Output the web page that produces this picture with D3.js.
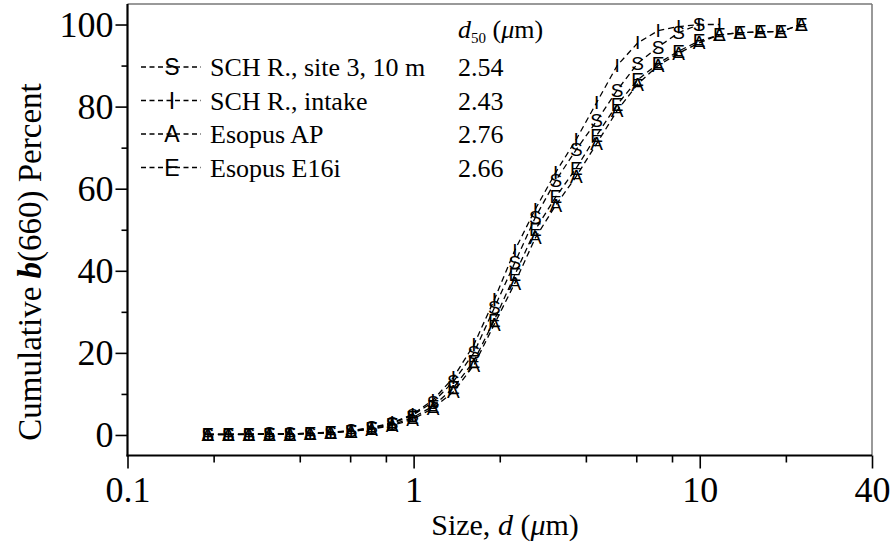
<!DOCTYPE html>
<html>
<head>
<meta charset="utf-8">
<script src="https://cdn.jsdelivr.net/npm/d3@7"></script>
<style>
  html, body { margin: 0; padding: 0; background: #fff; }
  svg { display: block; }
  text { font-family: "Liberation Serif", "Times New Roman", serif; fill: #000; }
  text.marker { font-family: "Liberation Sans", Arial, sans-serif; }
</style>
</head>
<body>
<svg id="chart" width="893" height="546"></svg>
<script>
// ---------- data ----------
const sizes = [0.191, 0.2252, 0.2655, 0.3130, 0.3690, 0.4351, 0.5130, 0.6048, 0.7131, 0.8407,
               0.9912, 1.1686, 1.3778, 1.6245, 1.9153, 2.2582, 2.6624, 3.1390, 3.7009, 4.3634,
               5.1444, 6.0653, 7.1510, 8.4310, 9.9402, 11.719, 13.817, 16.291, 19.207, 22.645];
const seriesNames = ["SCH R., site 3, 10 m", "SCH R., intake", "Esopus AP", "Esopus E16i"];
const seriesMarkers = ["S", "I", "A", "E"];
const d50Values = ["2.54", "2.43", "2.76", "2.66"];
const valuesS = [0.2, 0.2, 0.2, 0.3, 0.3, 0.4, 0.6, 1.0, 1.7, 2.8, 4.8, 8.0, 13, 20, 31, 42, 53, 62, 69.5, 76.5,
                 84, 90.5, 94.5, 98, 100];
const valuesI = [0.2, 0.2, 0.2, 0.3, 0.3, 0.4, 0.7, 1.1, 1.8, 3.0, 5.0, 8.5, 14, 22, 33, 45, 55, 64, 72, 81,
                 90, 95.5, 98.5, 99.5, 100, 100];
const valuesA = [0.1, 0.1, 0.1, 0.2, 0.2, 0.3, 0.5, 0.9, 1.4, 2.3, 3.8, 6.5, 10.5, 17, 27, 37, 48, 56, 63, 71,
                 79, 85.5, 90, 93, 95.5, 97.5, 98, 98.2, 98.3, 100];
const valuesE = [0.1, 0.1, 0.2, 0.2, 0.2, 0.3, 0.6, 0.9, 1.5, 2.5, 4.2, 7.0, 11.5, 18, 28, 39, 50, 58, 65, 73,
                 80.5, 86.5, 90.5, 93.5, 96, 97.5, 98, 98.2, 98.3, 100];
const xMajorTicks = [0.1, 1, 10, 40];
const xMinorTicks = [0.2, 0.4, 0.6, 0.8, 2, 4, 6, 8, 20];
const yMajorTicks = [0, 20, 40, 60, 80, 100];
const yMinorTicks = [10, 30, 50, 70, 90];

// ---------- layout ----------
const svg = d3.select("#chart");
const L = 127.5, R = 872, T = 4, B = 455.5;
const x = d3.scaleLog().domain([0.1, 40]).range([L, R]);
const y = d3.scaleLinear().domain([-5, 105]).range([B, T]);

const allSeries = [valuesS, valuesI, valuesA, valuesE].map((vals, k) => ({
  name: seriesNames[k], marker: seriesMarkers[k], d50: d50Values[k],
  points: vals.map((v, i) => ({ d: sizes[i], v: v }))
}));

// frame (top/right grey)
svg.append("line").attr("x1", L).attr("x2", R).attr("y1", T).attr("y2", T)
  .attr("stroke", "#777").attr("stroke-width", 1.5);
svg.append("line").attr("x1", R).attr("x2", R).attr("y1", T).attr("y2", B)
  .attr("stroke", "#777").attr("stroke-width", 1.5);

// x axis
const gx = svg.append("g").attr("transform", `translate(0,${B})`)
  .call(d3.axisBottom(x).tickValues(xMajorTicks).tickSize(13).tickPadding(8).tickFormat(d => String(d)));
gx.select(".domain").remove();
gx.selectAll(".tick line").attr("stroke", "#000").attr("stroke-width", 1.6);
gx.selectAll(".tick text").style("font-size", "36px");
const gxm = svg.append("g").attr("transform", `translate(0,${B})`)
  .call(d3.axisBottom(x).tickValues(xMinorTicks).tickSize(7).tickFormat(""));
gxm.select(".domain").remove();
gxm.selectAll(".tick line").attr("stroke", "#000").attr("stroke-width", 1.6);

// y axis
const gy = svg.append("g").attr("transform", `translate(${L},0)`)
  .call(d3.axisLeft(y).tickValues(yMajorTicks).tickSize(12).tickPadding(2));
gy.select(".domain").remove();
gy.selectAll(".tick line").attr("stroke", "#000").attr("stroke-width", 1.6);
gy.selectAll(".tick text").style("font-size", "36px");
const gym = svg.append("g").attr("transform", `translate(${L},0)`)
  .call(d3.axisLeft(y).tickValues(yMinorTicks).tickSize(6).tickFormat(""));
gym.select(".domain").remove();
gym.selectAll(".tick line").attr("stroke", "#000").attr("stroke-width", 1.6);

// axis lines (black)
svg.append("line").attr("x1", L).attr("x2", L).attr("y1", T).attr("y2", B + 1)
  .attr("stroke", "#000").attr("stroke-width", 2.2);
svg.append("line").attr("x1", L - 1).attr("x2", R).attr("y1", B).attr("y2", B)
  .attr("stroke", "#000").attr("stroke-width", 2.2);

// axis titles
const xt = svg.append("text").attr("x", 505).attr("y", 535).attr("text-anchor", "middle")
  .style("font-size", "30px");
xt.append("tspan").text("Size, ");
xt.append("tspan").attr("font-style", "italic").text("d");
xt.append("tspan").text(" (");
xt.append("tspan").attr("font-style", "italic").text("μ");
xt.append("tspan").text("m)");

const yt = svg.append("text").attr("transform", "translate(41,262) rotate(-90)")
  .attr("text-anchor", "middle").style("font-size", "33px");
yt.append("tspan").text("Cumulative ");
yt.append("tspan").attr("font-weight", "bold").attr("font-style", "italic").text("b");
yt.append("tspan").text("(660) Percent");

// lines
const line = d3.line().x(p => x(p.d)).y(p => y(p.v));
const plot = svg.append("g");
allSeries.forEach(s => {
  plot.append("path").datum(s.points).attr("d", line)
    .attr("fill", "none").attr("stroke", "#000").attr("stroke-width", 1.3)
    .attr("stroke-dasharray", "6,4");
});
allSeries.forEach(s => {
  plot.selectAll(null).data(s.points).join("text")
    .attr("class", "marker")
    .attr("x", p => x(p.d)).attr("y", p => y(p.v))
    .attr("text-anchor", "middle").attr("dominant-baseline", "central")
    .style("font-size", "19px")
    .text(s.marker);
});

// legend
const lg = svg.append("g");
const hdr = lg.append("text").attr("x", 458).attr("y", 38).style("font-size", "26px");
hdr.append("tspan").attr("font-style", "italic").text("d");
hdr.append("tspan").style("font-size", "15px").attr("dy", 5).text("50");
hdr.append("tspan").attr("dy", -5).text(" (");
hdr.append("tspan").attr("font-style", "italic").text("μ");
hdr.append("tspan").text("m)");
const rowY = d3.scaleLinear().domain([0, 1]).range([67, 100.5]);
allSeries.forEach((s, k) => {
  const cy = rowY(k);
  lg.append("line").attr("x1", 141).attr("x2", 201).attr("y1", cy).attr("y2", cy)
    .attr("stroke", "#000").attr("stroke-width", 1.3).attr("stroke-dasharray", "5,3.5");
  lg.append("text").attr("class", "marker").attr("x", 172).attr("y", cy).attr("text-anchor", "middle")
    .attr("dominant-baseline", "central").style("font-size", "23px")
    .text(s.marker);
  lg.append("text").attr("x", 210).attr("y", cy + 9).style("font-size", "26px").text(s.name);
  lg.append("text").attr("x", 458).attr("y", cy + 9).style("font-size", "26px").text(s.d50);
});
</script>
</body>
</html>
